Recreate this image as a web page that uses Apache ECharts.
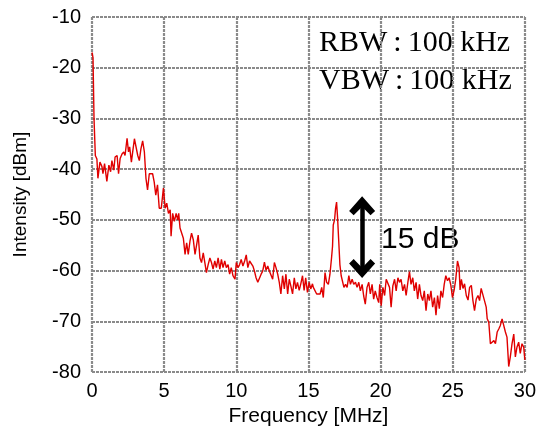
<!DOCTYPE html>
<html><head><meta charset="utf-8">
<script src="https://cdn.jsdelivr.net/npm/echarts@6/dist/echarts.min.js"></script>
<style>html,body{margin:0;padding:0;background:#fff}#c{width:539px;height:432px}</style>
</head><body><div id="c"></div>
<script>
const freqMHz = [0.00,0.07,0.14,0.23,0.34,0.41,0.55,0.69,0.76,0.87,1.03,1.17,1.29,1.38,1.51,1.60,1.74,1.84,1.95,2.08,2.20,2.29,2.43,2.53,2.61,2.73,2.82,2.94,3.05,3.17,3.28,3.39,3.51,3.63,3.74,3.85,3.97,4.08,4.20,4.31,4.42,4.54,4.66,
4.80,4.95,5.07,5.18,5.30,5.42,5.48,5.59,5.71,5.83,5.94,6.01,6.10,6.21,6.33,6.45,6.56,6.67,6.79,6.90,7.02,7.14,7.25,7.36,7.48,7.59,7.71,7.82,7.93,8.05,8.17,8.28,8.39,8.51,8.62,8.74,8.86,8.97,9.08,9.20,9.31,9.43,9.54,9.65,9.77,
9.91,10.00,10.12,10.23,10.34,10.46,10.58,10.69,10.80,10.92,11.03,11.15,11.26,11.37,11.49,11.61,11.72,11.83,11.95,12.06,12.18,12.30,12.41,12.52,12.64,12.75,12.87,12.98,13.09,13.21,13.33,13.44,13.56,13.67,13.78,13.90,14.02,14.13,14.24,14.36,14.47,14.59,
14.70,14.81,14.93,15.05,15.16,15.28,15.34,15.46,15.57,15.69,15.81,15.92,16.03,16.15,16.26,16.38,16.49,16.60,16.67,16.72,16.81,16.88,16.95,17.02,17.09,17.18,17.27,17.36,17.46,17.57,17.68,17.80,17.91,18.03,18.14,18.26,18.37,18.49,18.60,18.72,18.83,18.94,19.06,19.18,19.29,19.41,19.52,19.63,19.75,19.87,
19.94,20.04,20.16,20.28,20.39,20.51,20.62,20.73,20.85,20.97,21.08,21.20,21.31,21.42,21.54,21.66,21.77,21.89,22.00,22.11,22.23,22.34,22.46,22.57,22.69,22.80,22.92,23.03,23.15,23.27,23.38,23.49,23.61,23.73,23.84,23.95,24.07,24.18,24.30,24.41,24.52,
24.64,24.75,24.87,24.98,25.10,25.21,25.33,25.44,25.51,25.60,25.71,25.82,25.94,26.06,26.17,26.29,26.40,26.51,26.63,26.75,26.86,26.97,27.09,27.20,27.32,27.39,27.50,27.61,27.73,27.85,27.96,28.08,28.19,28.30,28.42,28.54,28.65,28.76,28.88,28.99,29.11,29.23,29.34,29.45,29.57,29.68,29.80,29.92,30.00];

const intensityDbm = [-17.0,-18.0,-30.0,-37.3,-38.0,-41.8,-38.6,-39.5,-40.9,-38.9,-42.4,-39.2,-40.5,-38.3,-40.2,-37.6,-37.3,-40.9,-37.9,-37.0,-36.6,-37.3,-33.9,-36.6,-35.6,-38.6,-36.6,-34.0,-33.7,-37.3,-38.3,-36.0,-34.4,-36.6,-41.8,-44.1,-40.9,-41.2,-40.9,-42.5,-45.1,-43.1,-47.7,
-47.7,-43.7,-47.7,-46.7,-48.7,-48.0,-53.2,-48.7,-50.3,-48.7,-50.0,-48.7,-51.6,-51.6,-53.6,-56.8,-54.5,-56.8,-54.2,-52.6,-53.9,-56.8,-54.9,-53.0,-57.5,-58.4,-56.5,-58.4,-60.4,-58.8,-57.5,-58.4,-59.7,-58.1,-59.4,-57.5,-59.7,-57.8,-59.4,-58.1,-59.4,-58.8,-60.7,-59.4,-61.0,
-61.7,-58.4,-59.4,-58.8,-57.8,-59.1,-58.1,-56.9,-59.4,-58.1,-58.4,-59.1,-60.1,-61.4,-62.3,-62.0,-60.7,-60.1,-58.3,-59.9,-59.1,-60.1,-60.4,-61.7,-58.4,-59.4,-60.7,-62.3,-64.6,-61.0,-63.6,-60.7,-64.6,-61.7,-63.0,-64.6,-61.4,-63.6,-62.3,-63.9,-62.6,-61.0,
-63.9,-61.4,-64.3,-62.3,-63.6,-62.6,-63.3,-63.3,-64.6,-64.3,-64.6,-63.3,-65.3,-60.4,-62.3,-62.7,-60.7,-57.5,-55.2,-51.0,-50.0,-47.7,-46.5,-49.6,-53.6,-58.8,-61.0,-60.7,-63.3,-62.7,-63.3,-61.0,-62.7,-61.7,-62.7,-62.3,-63.3,-62.3,-64.0,-62.7,-65.0,-66.6,-63.3,-62.3,-64.6,-62.7,-65.6,-64.0,-65.3,-66.3,
-62.7,-66.9,-63.3,-64.9,-61.7,-62.0,-63.3,-67.2,-63.0,-61.7,-64.0,-61.4,-62.3,-61.7,-64.0,-62.7,-64.9,-62.3,-60.2,-62.7,-61.4,-64.0,-62.3,-65.6,-62.7,-64.9,-65.9,-64.0,-67.9,-64.6,-65.9,-64.0,-67.2,-65.3,-68.8,-64.9,-67.5,-64.0,-65.3,-62.7,-61.0,
-62.0,-61.4,-62.9,-65.3,-63.8,-61.7,-58.1,-59.4,-63.8,-61.7,-63.5,-62.6,-64.9,-65.8,-63.3,-62.9,-65.9,-67.9,-65.6,-64.9,-65.9,-63.5,-63.8,-65.9,-67.2,-69.5,-70.2,-74.4,-74.1,-73.8,-74.4,-72.1,-71.5,-70.8,-69.5,-69.2,-72.1,-73.1,-78.9,-77.0,-74.4,-72.5,-77.0,-75.1,-74.1,-76.3,-74.4,-75.1,-77.6];

const xTicks = [0, 5, 10, 15, 20, 25, 30];
const yTicks = [-80, -70, -60, -50, -40, -30, -20, -10];
const arrowFreq = 18.72;
const arrowFrom = -59.6;
const arrowTo = -47.2;
const annotationLines = ['RBW\u2009:\u2009100 kHz', 'VBW\u2009:\u2009100 kHz'];
const dBLabel = '15 dB';

const gridLine = {color: '#8a8a8a', width: 2.2, type: [3, 1]};
const chevron = 'path://M0,12 L10,0 L20,12 L16.5,15.5 L10,8.5 L3.5,15.5 Z';
const chart = echarts.init(document.getElementById('c'), null, {renderer: 'canvas'});
chart.setOption({
  animation: false,
  backgroundColor: '#fff',
  grid: {left: 92, right: 11, top: 17, bottom: 57, show: false},
  xAxis: {
    type: 'value', min: xTicks[0], max: xTicks[xTicks.length - 1], interval: 5,
    name: 'Frequency [MHz]', nameLocation: 'middle', nameGap: 31,
    nameTextStyle: {fontFamily: 'Liberation Sans', fontSize: 21, color: '#000'},
    axisLine: {show: false}, axisTick: {show: false},
    axisLabel: {fontFamily: 'Liberation Sans', fontSize: 20, color: '#000', margin: 9},
    splitLine: {show: true, showMinLine: true, showMaxLine: true, lineStyle: gridLine}
  },
  yAxis: {
    type: 'value', min: yTicks[0], max: yTicks[yTicks.length - 1], interval: 10,
    name: 'Intensity [dBm]', nameLocation: 'middle', nameGap: 62,
    nameTextStyle: {fontFamily: 'Liberation Sans', fontSize: 19, color: '#000'},
    axisLine: {show: false}, axisTick: {show: false},
    axisLabel: {fontFamily: 'Liberation Sans', fontSize: 20, color: '#000', margin: 11},
    splitLine: {show: true, showMinLine: true, showMaxLine: true, lineStyle: gridLine}
  },
  series: [{
    type: 'line',
    data: freqMHz.map((f, i) => [f, intensityDbm[i]]),
    showSymbol: false, symbol: 'none',
    lineStyle: {color: '#e00000', width: 1.4},
    z: 3,
    markLine: {
      silent: true, animation: false,
      symbol: [chevron, chevron],
      symbolSize: [26, 19],
      symbolOffset: 0,
      lineStyle: {color: '#000', width: 4.5, type: 'solid'},
      itemStyle: {color: '#000'},
      label: {show: false},
      data: [[{coord: [arrowFreq, arrowFrom]}, {coord: [arrowFreq, arrowTo]}]]
    }
  }],
  graphic: [
    {type: 'text', left: 319, top: 28, style: {text: annotationLines[0], font: '30px "Liberation Serif"', fill: '#000'}},
    {type: 'text', left: 319, top: 66, style: {text: annotationLines[1], font: '30px "Liberation Serif"', fill: '#000'}},
    {type: 'text', left: 381, top: 225, style: {text: dBLabel, font: '30px "Liberation Sans"', fill: '#000'}}
  ]
});
</script></body></html>
